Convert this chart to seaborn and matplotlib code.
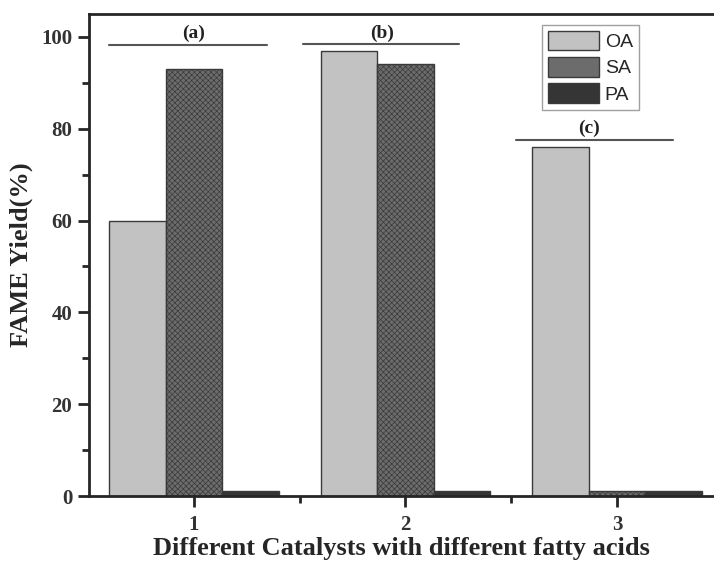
import numpy as np
import pandas as pd
import seaborn as sns
import matplotlib.pyplot as plt
from matplotlib.ticker import MultipleLocator

# data
catalysts = [1, 2, 3]
acids = ['OA', 'SA', 'PA']
oa_yield = [60, 97, 76]
sa_yield = [93, 94, 1]
pa_yield = [1, 1, 1]
panel_labels = ['(a)', '(b)', '(c)']
panel_level = [98.3, 98.5, 77.6]
panel_span = [(0.60, 1.345), (1.515, 2.255), (2.525, 3.265)]
panel_text_x = [1.0, 1.89, 2.87]

df = pd.DataFrame({
    'catalyst': catalysts * 3,
    'acid': [a for a in acids for _ in catalysts],
    'yield': oa_yield + sa_yield + pa_yield,
})

sns.set_style('ticks')
plt.rcParams['font.family'] = ['Liberation Serif', 'DejaVu Serif']
plt.rcParams['hatch.linewidth'] = 0.5

fig = plt.figure(figsize=(7.14, 5.66), dpi=100)
ax = fig.add_axes([89 / 714, 70 / 566, 625 / 714, 482 / 566])

colors = {'OA': '#c2c2c2', 'SA': '#6c6c6c', 'PA': '#353535'}
sns.barplot(data=df, x='catalyst', y='yield', hue='acid', hue_order=acids,
            palette=colors, native_scale=True, width=0.8, saturation=1,
            edgecolor='#3a3a3a', linewidth=1, ax=ax)

# hatch the SA bars
for bar in ax.containers[1]:
    bar.set_hatch('xxxxxx')

ax.set_xlim(0.504, 3.459)
ax.set_ylim(0, 105)
ax.set_xticks(catalysts)
ax.set_xticklabels([str(c) for c in catalysts])
ax.yaxis.set_major_locator(MultipleLocator(20))
ax.yaxis.set_minor_locator(MultipleLocator(10))
ax.xaxis.set_minor_locator(MultipleLocator(0.5))
ax.tick_params(which='major', direction='out', length=8, width=2, labelsize=15, pad=4)
ax.tick_params(which='minor', direction='out', length=5, width=2)
ax.tick_params(axis='x', which='major', pad=6)
for lab in ax.get_xticklabels() + ax.get_yticklabels():
    lab.set_fontweight('bold')
    lab.set_color('#333333')

for side in ['left', 'bottom', 'top']:
    ax.spines[side].set_linewidth(2)
    ax.spines[side].set_visible(True)
ax.spines['right'].set_visible(False)

ax.set_xlabel('Different Catalysts with different fatty acids', fontsize=19,
              fontweight='bold', labelpad=1)
ax.set_ylabel('FAME Yield(%)', fontsize=19, fontweight='bold', labelpad=6)

# panel markers
for lab, lvl, (x0, x1), tx in zip(panel_labels, panel_level, panel_span, panel_text_x):
    ax.plot([x0, x1], [lvl, lvl], color='#555555', lw=1.5)
    ax.text(tx, lvl + 0.5, lab, ha='center', va='bottom',
            fontsize=14, fontweight='bold', color='#222222')

leg = ax.legend(loc='upper left', bbox_to_anchor=(0.71, 0.998), frameon=True,
                fancybox=False, edgecolor='#888888', handlelength=2.6,
                handleheight=1.2, handletextpad=0.3, labelspacing=0.3,
                borderpad=0.3, prop={'family': 'Liberation Sans', 'size': 14},
                title=None)
leg.get_frame().set_linewidth(1)

fig.savefig('out.png', dpi=100)
